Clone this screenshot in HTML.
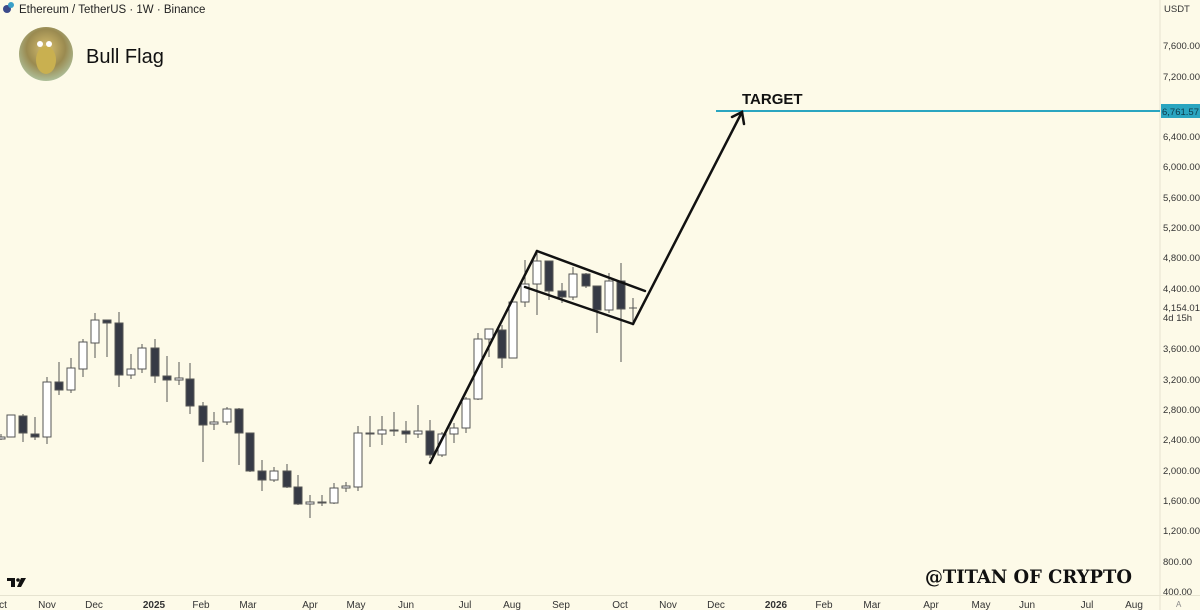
<!DOCTYPE html>
<html><head><meta charset="utf-8"><style>
html,body{margin:0;padding:0;background:#fdfae8;}
svg{display:block}
text{font-family:"Liberation Sans",sans-serif;}
</style></head><body>
<svg width="1200" height="610" viewBox="0 0 1200 610" xmlns="http://www.w3.org/2000/svg">
<rect width="1200" height="610" fill="#fdfae8"/>
<line x1="1160" y1="0" x2="1160" y2="610" stroke="#e6e3d0" stroke-width="1"/>
<line x1="0" y1="595.5" x2="1200" y2="595.5" stroke="#e6e3d0" stroke-width="1"/>
<!-- header -->
<circle cx="7" cy="9" r="4" fill="#3b4a8a"/><circle cx="11" cy="5" r="3" fill="#3aa0c8"/>
<text x="19" y="13" font-size="11.5" fill="#222">Ethereum / TetherUS · 1W · Binance</text>
<defs><radialGradient id="av" cx="50%" cy="40%" r="60%"><stop offset="0" stop-color="#d8c070"/><stop offset="0.6" stop-color="#9a8a50"/><stop offset="1" stop-color="#aebf9a"/></radialGradient></defs>
<circle cx="46" cy="54" r="27" fill="url(#av)"/>
<ellipse cx="46" cy="60" rx="10" ry="14" fill="#c9b050"/>
<circle cx="40" cy="44" r="3" fill="#fff"/><circle cx="49" cy="44" r="3" fill="#fff"/>
<text x="86" y="63" font-size="20" fill="#111">Bull Flag</text>
<!-- price axis -->
<g font-size="9.5" fill="#333">
<text x="1164" y="12">USDT</text>
<text x="1163" y="49">7,600.00</text>
<text x="1163" y="80">7,200.00</text>
<text x="1163" y="140">6,400.00</text>
<text x="1163" y="170">6,000.00</text>
<text x="1163" y="201">5,600.00</text>
<text x="1163" y="231">5,200.00</text>
<text x="1163" y="261">4,800.00</text>
<text x="1163" y="292">4,400.00</text>
<text x="1163" y="352">3,600.00</text>
<text x="1163" y="383">3,200.00</text>
<text x="1163" y="413">2,800.00</text>
<text x="1163" y="443">2,400.00</text>
<text x="1163" y="474">2,000.00</text>
<text x="1163" y="504">1,600.00</text>
<text x="1163" y="534">1,200.00</text>
<text x="1163" y="565">800.00</text>
<text x="1163" y="595">400.00</text>
<text x="1163" y="311">4,154.01</text>
<text x="1163" y="321">4d 15h</text>
<text x="1176" y="607" font-size="8" fill="#888">A</text>
</g>
<!-- target line -->
<line x1="716" y1="111" x2="1160" y2="111" stroke="#2aa5c0" stroke-width="2"/>
<rect x="1161" y="104" width="39" height="14" fill="#2aa5c0"/>
<text x="1162" y="115" font-size="9.5" fill="#0d3a4a">6,761.57</text>
<text x="742" y="104" font-size="15" font-weight="bold" fill="#111">TARGET</text>
<!-- candles -->
<g stroke="#555" stroke-width="1">
<line x1="1" y1="434" x2="1" y2="440"/><rect x="-3" y="437" width="8" height="2" fill="#fff"/>
<line x1="11" y1="415" x2="11" y2="437"/><rect x="7" y="415" width="8" height="22" fill="#fff"/>
<line x1="23" y1="414" x2="23" y2="442"/><rect x="19" y="416" width="8" height="17" fill="#363a45"/>
<line x1="35" y1="417" x2="35" y2="440"/><rect x="31" y="434" width="8" height="3" fill="#363a45"/>
<line x1="47" y1="377" x2="47" y2="444"/><rect x="43" y="382" width="8" height="55" fill="#fff"/>
<line x1="59" y1="362" x2="59" y2="395"/><rect x="55" y="382" width="8" height="8" fill="#363a45"/>
<line x1="71" y1="358" x2="71" y2="393"/><rect x="67" y="368" width="8" height="22" fill="#fff"/>
<line x1="83" y1="339" x2="83" y2="377"/><rect x="79" y="342" width="8" height="27" fill="#fff"/>
<line x1="95" y1="313" x2="95" y2="358"/><rect x="91" y="320" width="8" height="23" fill="#fff"/>
<line x1="107" y1="320" x2="107" y2="357"/><rect x="103" y="320" width="8" height="3" fill="#363a45"/>
<line x1="119" y1="312" x2="119" y2="387"/><rect x="115" y="323" width="8" height="52" fill="#363a45"/>
<line x1="131" y1="354" x2="131" y2="379"/><rect x="127" y="369" width="8" height="6" fill="#fff"/>
<line x1="142" y1="344" x2="142" y2="373"/><rect x="138" y="348" width="8" height="21" fill="#fff"/>
<line x1="155" y1="339" x2="155" y2="383"/><rect x="151" y="348" width="8" height="28" fill="#363a45"/>
<line x1="167" y1="356" x2="167" y2="402"/><rect x="163" y="376" width="8" height="4" fill="#363a45"/>
<line x1="179" y1="362" x2="179" y2="385"/><rect x="175" y="378" width="8" height="2" fill="#fff"/>
<line x1="190" y1="363" x2="190" y2="414"/><rect x="186" y="379" width="8" height="27" fill="#363a45"/>
<line x1="203" y1="402" x2="203" y2="462"/><rect x="199" y="406" width="8" height="19" fill="#363a45"/>
<line x1="214" y1="412" x2="214" y2="430"/><rect x="210" y="422" width="8" height="2" fill="#fff"/>
<line x1="227" y1="407" x2="227" y2="425"/><rect x="223" y="409" width="8" height="13" fill="#fff"/>
<line x1="239" y1="408" x2="239" y2="465"/><rect x="235" y="409" width="8" height="24" fill="#363a45"/>
<line x1="250" y1="433" x2="250" y2="472"/><rect x="246" y="433" width="8" height="38" fill="#363a45"/>
<line x1="262" y1="460" x2="262" y2="491"/><rect x="258" y="471" width="8" height="9" fill="#363a45"/>
<line x1="274" y1="467" x2="274" y2="482"/><rect x="270" y="471" width="8" height="9" fill="#fff"/>
<line x1="287" y1="464" x2="287" y2="488"/><rect x="283" y="471" width="8" height="16" fill="#363a45"/>
<line x1="298" y1="475" x2="298" y2="505"/><rect x="294" y="487" width="8" height="17" fill="#363a45"/>
<line x1="310" y1="495" x2="310" y2="518"/><rect x="306" y="502" width="8" height="2" fill="#fff"/>
<line x1="322" y1="495" x2="322" y2="506"/><rect x="318" y="502" width="8" height="1" fill="#fff"/>
<line x1="334" y1="483" x2="334" y2="504"/><rect x="330" y="488" width="8" height="15" fill="#fff"/>
<line x1="346" y1="482" x2="346" y2="492"/><rect x="342" y="486" width="8" height="2" fill="#fff"/>
<line x1="358" y1="426" x2="358" y2="491"/><rect x="354" y="433" width="8" height="54" fill="#fff"/>
<line x1="370" y1="416" x2="370" y2="447"/><rect x="366" y="433" width="8" height="1" fill="#363a45"/>
<line x1="382" y1="416" x2="382" y2="445"/><rect x="378" y="430" width="8" height="4" fill="#fff"/>
<line x1="394" y1="412" x2="394" y2="436"/><rect x="390" y="430" width="8" height="1" fill="#fff"/>
<line x1="406" y1="421" x2="406" y2="443"/><rect x="402" y="431" width="8" height="3" fill="#363a45"/>
<line x1="418" y1="405" x2="418" y2="438"/><rect x="414" y="431" width="8" height="3" fill="#fff"/>
<line x1="430" y1="420" x2="430" y2="458"/><rect x="426" y="431" width="8" height="24" fill="#363a45"/>
<line x1="442" y1="432" x2="442" y2="457"/><rect x="438" y="434" width="8" height="21" fill="#fff"/>
<line x1="454" y1="423" x2="454" y2="443"/><rect x="450" y="428" width="8" height="6" fill="#fff"/>
<line x1="466" y1="397" x2="466" y2="433"/><rect x="462" y="399" width="8" height="29" fill="#fff"/>
<line x1="478" y1="333" x2="478" y2="400"/><rect x="474" y="339" width="8" height="60" fill="#fff"/>
<line x1="489" y1="329" x2="489" y2="357"/><rect x="485" y="329" width="8" height="10" fill="#fff"/>
<line x1="502" y1="325" x2="502" y2="368"/><rect x="498" y="330" width="8" height="28" fill="#363a45"/>
<line x1="513" y1="302" x2="513" y2="358"/><rect x="509" y="302" width="8" height="56" fill="#fff"/>
<line x1="525" y1="260" x2="525" y2="307"/><rect x="521" y="284" width="8" height="18" fill="#fff"/>
<line x1="537" y1="253" x2="537" y2="315"/><rect x="533" y="261" width="8" height="23" fill="#fff"/>
<line x1="549" y1="261" x2="549" y2="300"/><rect x="545" y="261" width="8" height="30" fill="#363a45"/>
<line x1="562" y1="283" x2="562" y2="303"/><rect x="558" y="291" width="8" height="6" fill="#363a45"/>
<line x1="573" y1="267" x2="573" y2="300"/><rect x="569" y="274" width="8" height="23" fill="#fff"/>
<line x1="586" y1="273" x2="586" y2="288"/><rect x="582" y="274" width="8" height="12" fill="#363a45"/>
<line x1="597" y1="286" x2="597" y2="333"/><rect x="593" y="286" width="8" height="24" fill="#363a45"/>
<line x1="609" y1="273" x2="609" y2="313"/><rect x="605" y="281" width="8" height="29" fill="#fff"/>
<line x1="621" y1="263" x2="621" y2="362"/><rect x="617" y="281" width="8" height="28" fill="#363a45"/>
<line x1="633" y1="298" x2="633" y2="325"/><line x1="629" y1="308" x2="637" y2="308"/>
</g>
<!-- pattern lines -->
<g stroke="#111" stroke-width="2.5" fill="none" stroke-linecap="round">
<line x1="430" y1="463" x2="537" y2="251"/>
<line x1="537" y1="251" x2="645" y2="291"/>
<line x1="525" y1="287" x2="633" y2="324"/>
<polyline points="633,324 742,112"/>
<polyline points="732,117 742,112 744,124"/>
</g>
<!-- watermark -->
<text x="925" y="583" style="font-family:'DejaVu Serif','Liberation Serif',serif;font-weight:bold;font-size:19px" fill="#111" textLength="207" lengthAdjust="spacingAndGlyphs">@TITAN OF CRYPTO</text>
<!-- TV logo -->
<g fill="#111">
<rect x="7" y="578" width="8" height="3"/><rect x="11" y="578" width="4" height="9"/>
<circle cx="18" cy="580" r="1.8"/>
<polygon points="21,578 26,578 21,587 17,587"/>
</g>
<!-- time axis -->
<g font-size="10" fill="#333" text-anchor="middle">
<text x="3" y="608">ct</text>
<text x="47" y="608">Nov</text>
<text x="94" y="608">Dec</text>
<text x="154" y="608" font-weight="bold">2025</text>
<text x="201" y="608">Feb</text>
<text x="248" y="608">Mar</text>
<text x="310" y="608">Apr</text>
<text x="356" y="608">May</text>
<text x="406" y="608">Jun</text>
<text x="465" y="608">Jul</text>
<text x="512" y="608">Aug</text>
<text x="561" y="608">Sep</text>
<text x="620" y="608">Oct</text>
<text x="668" y="608">Nov</text>
<text x="716" y="608">Dec</text>
<text x="776" y="608" font-weight="bold">2026</text>
<text x="824" y="608">Feb</text>
<text x="872" y="608">Mar</text>
<text x="931" y="608">Apr</text>
<text x="981" y="608">May</text>
<text x="1027" y="608">Jun</text>
<text x="1087" y="608">Jul</text>
<text x="1134" y="608">Aug</text>
</g>
</svg>
</body></html>
